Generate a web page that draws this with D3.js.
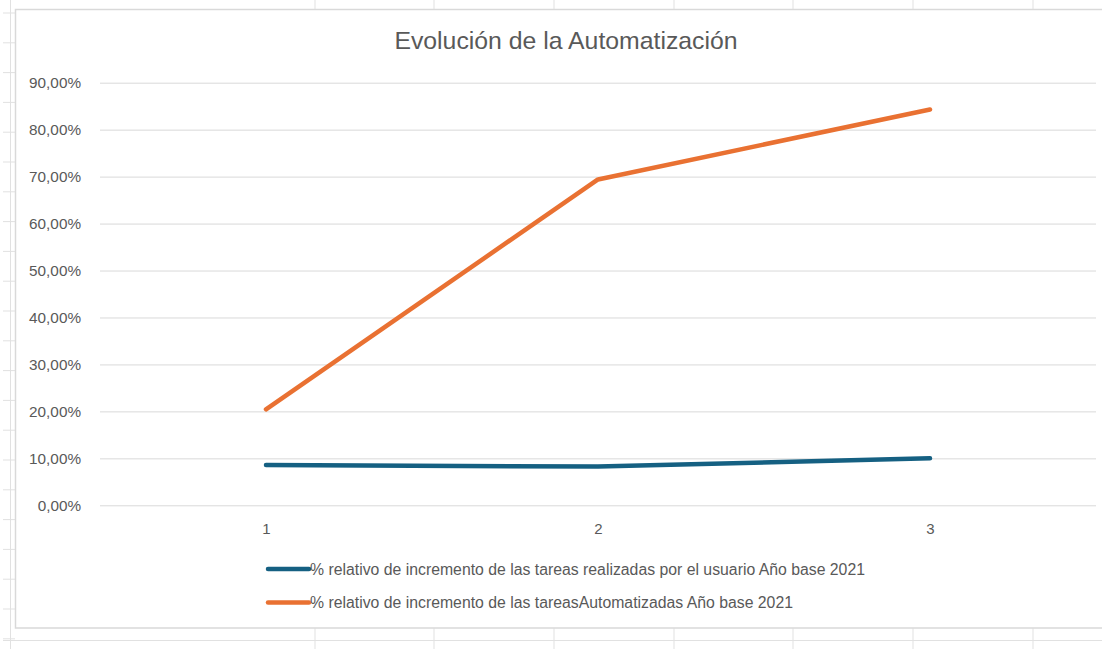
<!DOCTYPE html>
<html>
<head>
<meta charset="utf-8">
<script src="https://cdn.jsdelivr.net/npm/d3@7"></script>
<style>
  html, body { margin: 0; padding: 0; background: #fff; }
  svg { display: block; font-family: "Liberation Sans", Arial, sans-serif; }
  .grid line { stroke: #d9d9d9; stroke-width: 1; }
  .tick text { fill: #595959; }
</style>
</head>
<body>
<div id="chart"></div>
<script>
// ---- data
const categories = ["1", "2", "3"];
const usuario = [0.0858, 0.0825, 0.1000];
const automatizadas = [0.2045, 0.6940, 0.8430];
const yTicks = [0, 0.1, 0.2, 0.3, 0.4, 0.5, 0.6, 0.7, 0.8, 0.9];
const seriesNames = [
    "% relativo de incremento de las tareas realizadas por el usuario Año base 2021",
    "% relativo de incremento de las tareasAutomatizadas Año base 2021"
];
const series = [usuario, automatizadas];
const colors = ["#156082", "#e97132"];

// ---- size
const W = 1102;
const H = 649;

// plot area
const pLeft = 100;
const pRight = 1096;
const pTop = 82.7;
const pBottom = 505.3;

const es = d3.formatLocale({ decimal: ",", thousands: ".", grouping: [3], currency: ["", "€"] });
const pct = es.format(".2%");

const svg = d3.select("#chart")
    .append("svg")
    .attr("width", W)
    .attr("height", H);

// ---- spreadsheet background
const sheet = svg.append("g").attr("class", "sheet")
    .attr("stroke", "#e1e1e1").attr("stroke-width", 1);
const colLines = [315, 434, 554, 674, 793, 913, 1033];
sheet.selectAll(".ct").data(colLines).enter().append("line")
    .attr("x1", d => d).attr("x2", d => d).attr("y1", 0).attr("y2", 10);
sheet.selectAll(".cb").data(colLines).enter().append("line")
    .attr("x1", d => d).attr("x2", d => d).attr("y1", 628).attr("y2", H);
sheet.append("line").attr("x1", 10.5).attr("x2", 10.5).attr("y1", 0).attr("y2", H);
const rowLines = d3.range(0, 22).map(i => 13 + i * 29.8);
sheet.selectAll(".r").data(rowLines).enter().append("line")
    .attr("x1", 3).attr("x2", 15).attr("y1", d => d).attr("y2", d => d);
sheet.append("line").attr("x1", 3).attr("x2", W).attr("y1", 640.5).attr("y2", 640.5);

// chart area
svg.append("rect")
    .attr("x", 15.5).attr("y", 9.5)
    .attr("width", W).attr("height", 618.5)
    .attr("fill", "#fff")
    .attr("stroke", "#d9d9d9")
    .attr("stroke-width", 1.5);

// ---- scales
const xScale = d3.scalePoint()
    .domain(categories)
    .range([pLeft, pRight])
    .padding(0.5);

const yScale = d3.scaleLinear()
    .domain([0, 0.9])
    .range([pBottom, pTop]);

// ---- y axis + gridlines
const yAxis = d3.axisLeft(yScale)
    .tickValues(yTicks)
    .tickFormat(pct)
    .tickSize(-(pRight - pLeft))
    .tickPadding(19);

const gy = svg.append("g")
    .attr("class", "grid")
    .attr("transform", `translate(${pLeft}, 0)`)
    .call(yAxis);
gy.select(".domain").remove();
gy.selectAll("text")
    .attr("font-size", 15.3)
    .attr("font-family", "Liberation Sans, Arial, sans-serif");

// ---- x axis
const xAxis = d3.axisBottom(xScale).tickSize(0).tickPadding(18);
const gx = svg.append("g")
    .attr("transform", `translate(0, ${pBottom})`)
    .call(xAxis);
gx.select(".domain").remove();
gx.selectAll("text")
    .attr("font-size", 15)
    .attr("font-family", "Liberation Sans, Arial, sans-serif");

// ---- lines
const line = d3.line()
    .x((v, i) => xScale(categories[i]))
    .y(v => yScale(v));

svg.selectAll(".lines")
    .data(series)
    .enter()
    .append("path")
    .attr("class", "lines")
    .attr("d", d => line(d))
    .attr("fill", "none")
    .attr("stroke", (d, i) => colors[i])
    .attr("stroke-width", 4.5)
    .attr("stroke-linecap", "round")
    .attr("stroke-linejoin", "round");

// ---- title
svg.append("text")
    .attr("x", 566)
    .attr("y", 49)
    .attr("text-anchor", "middle")
    .attr("font-size", 24.8)
    .attr("fill", "#595959")
    .text("Evolución de la Automatización");

// ---- legend
const legend = svg.append("g")
    .selectAll("g")
    .data(seriesNames)
    .enter()
    .append("g")
    .attr("transform", (d, i) => `translate(268, ${569 + i * 33.5})`);
legend.append("line")
    .attr("x1", 0).attr("x2", 41)
    .attr("stroke", (d, i) => colors[i])
    .attr("stroke-width", 4.5)
    .attr("stroke-linecap", "round");
legend.append("text")
    .attr("x", 42)
    .attr("dy", "0.35em")
    .attr("font-size", 15.8)
    .attr("fill", "#595959")
    .text(d => d);
</script>
</body>
</html>
